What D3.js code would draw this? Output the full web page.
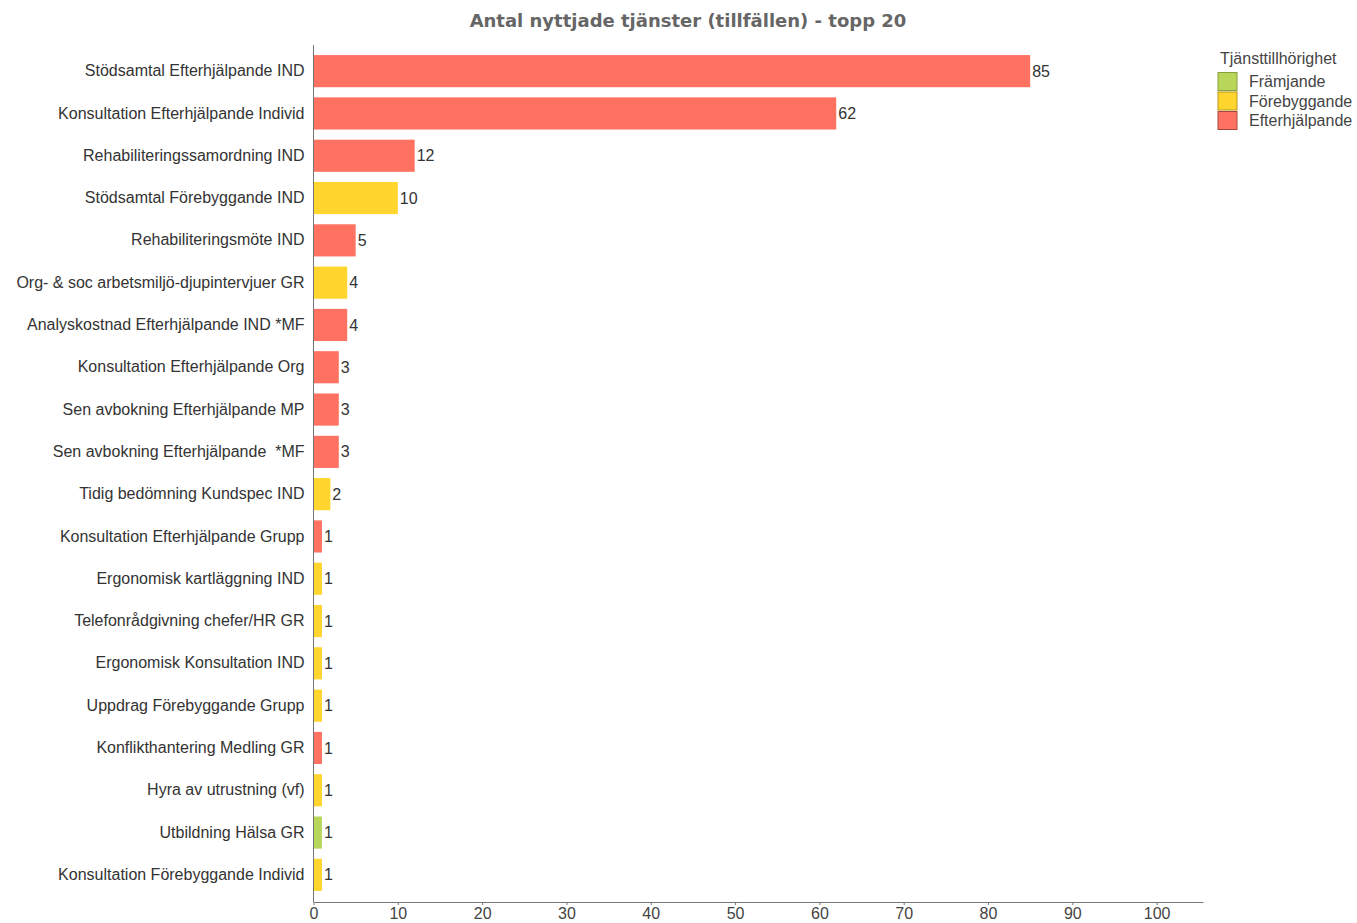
<!DOCTYPE html>
<html>
<head>
<meta charset="utf-8">
<script src="https://cdn.jsdelivr.net/npm/d3@7"></script>
<style>
  body { margin: 0; background: #fff; }
  svg text { font-family: "Liberation Sans", Arial, sans-serif; white-space: pre; }
</style>
</head>
<body>
<div id="chart"></div>
<script>
// data
const services = [
  "Stödsamtal Efterhjälpande IND",
  "Konsultation Efterhjälpande Individ",
  "Rehabiliteringssamordning IND",
  "Stödsamtal Förebyggande IND",
  "Rehabiliteringsmöte IND",
  "Org- & soc arbetsmiljö-djupintervjuer GR",
  "Analyskostnad Efterhjälpande IND *MF",
  "Konsultation Efterhjälpande Org",
  "Sen avbokning Efterhjälpande MP",
  "Sen avbokning Efterhjälpande  *MF",
  "Tidig bedömning Kundspec IND",
  "Konsultation Efterhjälpande Grupp",
  "Ergonomisk kartläggning IND",
  "Telefonrådgivning chefer/HR GR",
  "Ergonomisk Konsultation IND",
  "Uppdrag Förebyggande Grupp",
  "Konflikthantering Medling GR",
  "Hyra av utrustning (vf)",
  "Utbildning Hälsa GR",
  "Konsultation Förebyggande Individ"
];
const counts = [85, 62, 12, 10, 5, 4, 4, 3, 3, 3, 2, 1, 1, 1, 1, 1, 1, 1, 1, 1];
const groups = [
  "Efterhjälpande", "Efterhjälpande", "Efterhjälpande", "Förebyggande", "Efterhjälpande",
  "Förebyggande", "Efterhjälpande", "Efterhjälpande", "Efterhjälpande", "Efterhjälpande",
  "Förebyggande", "Efterhjälpande", "Förebyggande", "Förebyggande", "Förebyggande",
  "Förebyggande", "Efterhjälpande", "Förebyggande", "Främjande", "Förebyggande"
];
const categories = ["Främjande", "Förebyggande", "Efterhjälpande"];
const xTicks = [0, 10, 20, 30, 40, 50, 60, 70, 80, 90, 100];

const data = services.map((s, i) => ({ name: s, value: counts[i], group: groups[i] }));

const totalW = 1357, totalH = 923;
const margin = { top: 50, right: 154, bottom: 21, left: 313.5 };
const width = totalW - margin.left - margin.right;
const height = totalH - margin.top - margin.bottom;

const svg = d3.select("#chart")
  .append("svg")
  .attr("width", totalW)
  .attr("height", totalH);

svg.append("text")
  .attr("x", 688)
  .attr("y", 27)
  .attr("text-anchor", "middle")
  .style("font-family", "'DejaVu Sans', Verdana, sans-serif")
  .style("font-size", "18px")
  .style("font-weight", "bold")
  .attr("fill", "#666")
  .text("Antal nyttjade tjänster (tillfällen) - topp 20");

const chart = svg.append("g")
  .attr("transform", `translate(${margin.left},${margin.top})`);

const x = d3.scaleLinear()
  .domain([0, 105.5])
  .range([0, width]);

const y = d3.scaleBand()
  .domain(services)
  .range([0, 846])
  .paddingInner(0.24)
  .paddingOuter(0.12);

const color = d3.scaleOrdinal()
  .domain(categories)
  .range(["#B8D65A", "#FFD52E", "#FF7262"]);
const strokeColor = d3.scaleOrdinal()
  .domain(categories)
  .range(["#8a9f3e", "#b8951a", "#a8473e"]);

// bars
chart.selectAll("rect.bar")
  .data(data)
  .enter()
  .append("rect")
  .attr("class", "bar")
  .attr("x", x(0))
  .attr("y", d => y(d.name))
  .attr("width", d => x(d.value) - x(0))
  .attr("height", y.bandwidth())
  .attr("fill", d => color(d.group));

// value labels
chart.selectAll("text.val")
  .data(data)
  .enter()
  .append("text")
  .attr("class", "val")
  .attr("x", d => x(d.value) + 2)
  .attr("y", d => y(d.name) + y.bandwidth() / 2)
  .attr("dy", "0.35em")
  .style("font-size", "16px")
  .attr("fill", "#333")
  .text(d => d.value);

// y axis
const yAxis = chart.append("g")
  .call(d3.axisLeft(y).tickSize(0).tickPadding(9));
yAxis.select(".domain").attr("stroke", "#777").attr("d", `M0,-5V${height}`);
yAxis.selectAll("text")
  .style("font-size", "16px")
  .attr("fill", "#333");

// x axis
const xAxis = chart.append("g")
  .attr("transform", `translate(0,${height})`)
  .call(d3.axisBottom(x).tickValues(xTicks).tickSize(3).tickSizeOuter(0).tickPadding(3));
xAxis.select(".domain").attr("stroke", "#777");
xAxis.selectAll(".tick line").attr("stroke", "#777");
xAxis.selectAll("text")
  .style("font-size", "16px")
  .attr("fill", "#444");

// legend
const legend = svg.append("g")
  .attr("transform", "translate(1217, 50)");

legend.append("text")
  .attr("x", 3)
  .attr("y", 14)
  .style("font-size", "16px")
  .attr("fill", "#444")
  .text("Tjänsttillhörighet");

categories.forEach((c, i) => {
  legend.append("rect")
    .attr("x", 1)
    .attr("y", 22.5 + i * 19.5)
    .attr("width", 19)
    .attr("height", 18)
    .attr("fill", color(c))
    .attr("stroke", strokeColor(c))
    .attr("stroke-width", 1);
  legend.append("text")
    .attr("x", 32)
    .attr("y", 31.5 + i * 19.5)
    .attr("dy", "0.35em")
    .style("font-size", "16px")
    .attr("fill", "#444")
    .text(c);
});
</script>
</body>
</html>
